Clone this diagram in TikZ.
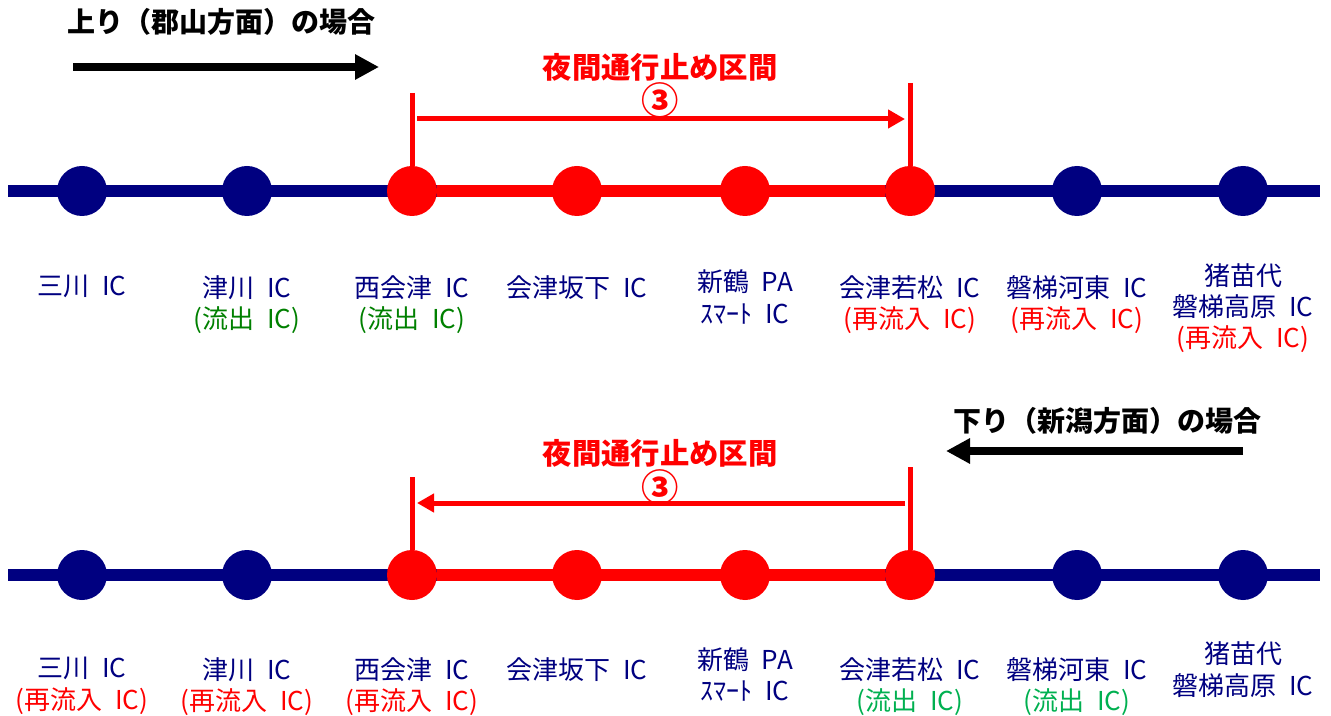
\documentclass[tikz,border=0pt]{standalone}
\usepackage{fontspec}
\newfontfamily\jpfont{Noto Sans CJK JP}
\newfontfamily\jplabelfont[WordSpace=2.2]{Noto Sans CJK JP}
\definecolor{mynavy}{RGB}{0,0,128}
\definecolor{myred}{RGB}{255,0,0}
\definecolor{mygreen}{RGB}{0,128,0}
\definecolor{mylightgreen}{RGB}{0,176,80}
\usetikzlibrary{arrows.meta,positioning}

\newcommand{\outIC}[1]{\textcolor{#1}{(流出 IC)}}
\newcommand{\reIC}{\textcolor{myred}{(再流入 IC)}}

\begin{document}
\begin{tikzpicture}[
  x=0.75pt, y=-0.75pt,
  route/.style={line width=9pt, draw=#1},
  route/.default=mynavy,
  icdot/.style={circle, fill=#1, minimum size=37.5pt, inner sep=0pt},
  icname/.style={font=\jplabelfont\fontsize{19.5}{23.5}\selectfont, text=mynavy, align=center, inner sep=0pt},
  nightline/.style={line width=3.75pt, draw=myred},
  nightarrow/.style={nightline, -{Triangle[length=12.75pt, width=13.5pt]}},
  dirarrow/.style={line width=6pt, -{Triangle[length=18pt, width=18pt]}},
  dirtitle/.style={font=\jpfont\bfseries\fontsize{21}{26}\selectfont, inner sep=0pt},
  nighttitle/.style={font=\jpfont\bfseries\fontsize{22}{26}\selectfont, text=myred, inner sep=0pt},
  nightnum/.style={font=\jpfont\bfseries\fontsize{28}{30}\selectfont, text=myred, inner sep=0pt}
]
\useasboundingbox (0,0) rectangle (1331,716);

% up line (for Koriyama)
\node[dirtitle, anchor=west] (utitle) at (67,22) {上り（郡山方面）の場合};
\coordinate (udirS) at (73,67);
\coordinate (udirE) at (379,67);
\draw[dirarrow] (udirS) -- (udirE);

\coordinate (ustart) at (8,191);
\coordinate (uend) at (1320,191);
\draw[route] (ustart) -- (uend);
\foreach \X/\C [count=\i] in {82/mynavy, 247/mynavy, 412/myred, 577/myred, 745/myred, 910/myred, 1077/mynavy, 1243/mynavy}
  \node[icdot=\C] (u\i) at (\X,191) {};
\draw[route=myred] (u3) -- (u6);

\coordinate (u3tick) at (412,93);
\coordinate (u6tick) at (910,83);
\draw[nightline] (u3tick) -- (u3);
\draw[nightline] (u6tick) -- (u6);
\coordinate (uarrowS) at (417,119);
\coordinate (uarrowE) at (905,119);
\draw[nightarrow] (uarrowS) -- (uarrowE);
\node[nighttitle] (uclosed) at (660,67) {夜間通行止め区間};
\node[nightnum] (unum) at (660,100) {③};

\node[icname, below=63pt of u1.center] (un1) {三川 IC};
\node[icname, below=63pt of u2.center] (un2) {津川 IC\\\outIC{mygreen}};
\node[icname, below=63pt of u3.center] (un3) {西会津 IC\\\outIC{mygreen}};
\node[icname, below=63pt of u4.center] (un4) {会津坂下 IC};
\node[icname, below=59pt of u5.center] (un5) {新鶴 PA\\ｽﾏｰﾄ IC};
\node[icname, below=63pt of u6.center] (un6) {会津若松 IC\\\reIC};
\node[icname, below=63pt of u7.center] (un7) {磐梯河東 IC\\\reIC};
\node[icname, below=54pt of u8.center] (un8) {猪苗代\\磐梯高原 IC\\\reIC};

% down line (for Niigata)
\node[dirtitle, anchor=east] (dtitle) at (1262,421) {下り（新潟方面）の場合};
\coordinate (ddirS) at (1243,451);
\coordinate (ddirE) at (946,451);
\draw[dirarrow] (ddirS) -- (ddirE);

\coordinate (dstart) at (8,575);
\coordinate (dend) at (1320,575);
\draw[route] (dstart) -- (dend);
\foreach \X/\C [count=\i] in {82/mynavy, 247/mynavy, 412/myred, 577/myred, 745/myred, 910/myred, 1077/mynavy, 1243/mynavy}
  \node[icdot=\C] (d\i) at (\X,575) {};
\draw[route=myred] (d3) -- (d6);

\coordinate (d3tick) at (412,477);
\coordinate (d6tick) at (910,467);
\draw[nightline] (d3tick) -- (d3);
\draw[nightline] (d6tick) -- (d6);
\coordinate (darrowS) at (905,503);
\coordinate (darrowE) at (417,503);
\draw[nightarrow] (darrowS) -- (darrowE);
\node[nighttitle] (dclosed) at (660,453) {夜間通行止め区間};
\node[nightnum] (dnum) at (660,487) {③};

\node[icname, below=61.5pt of d1.center] (dn1) {三川 IC\\\reIC};
\node[icname, below=61.5pt of d2.center] (dn2) {津川 IC\\\reIC};
\node[icname, below=61.5pt of d3.center] (dn3) {西会津 IC\\\reIC};
\node[icname, below=61.5pt of d4.center] (dn4) {会津坂下 IC};
\node[icname, below=54pt of d5.center] (dn5) {新鶴 PA\\ｽﾏｰﾄ IC};
\node[icname, below=61.5pt of d6.center] (dn6) {会津若松 IC\\\outIC{mylightgreen}};
\node[icname, below=61.5pt of d7.center] (dn7) {磐梯河東 IC\\\outIC{mylightgreen}};
\node[icname, below=50pt of d8.center] (dn8) {猪苗代\\磐梯高原 IC};

\end{tikzpicture}
\end{document}
